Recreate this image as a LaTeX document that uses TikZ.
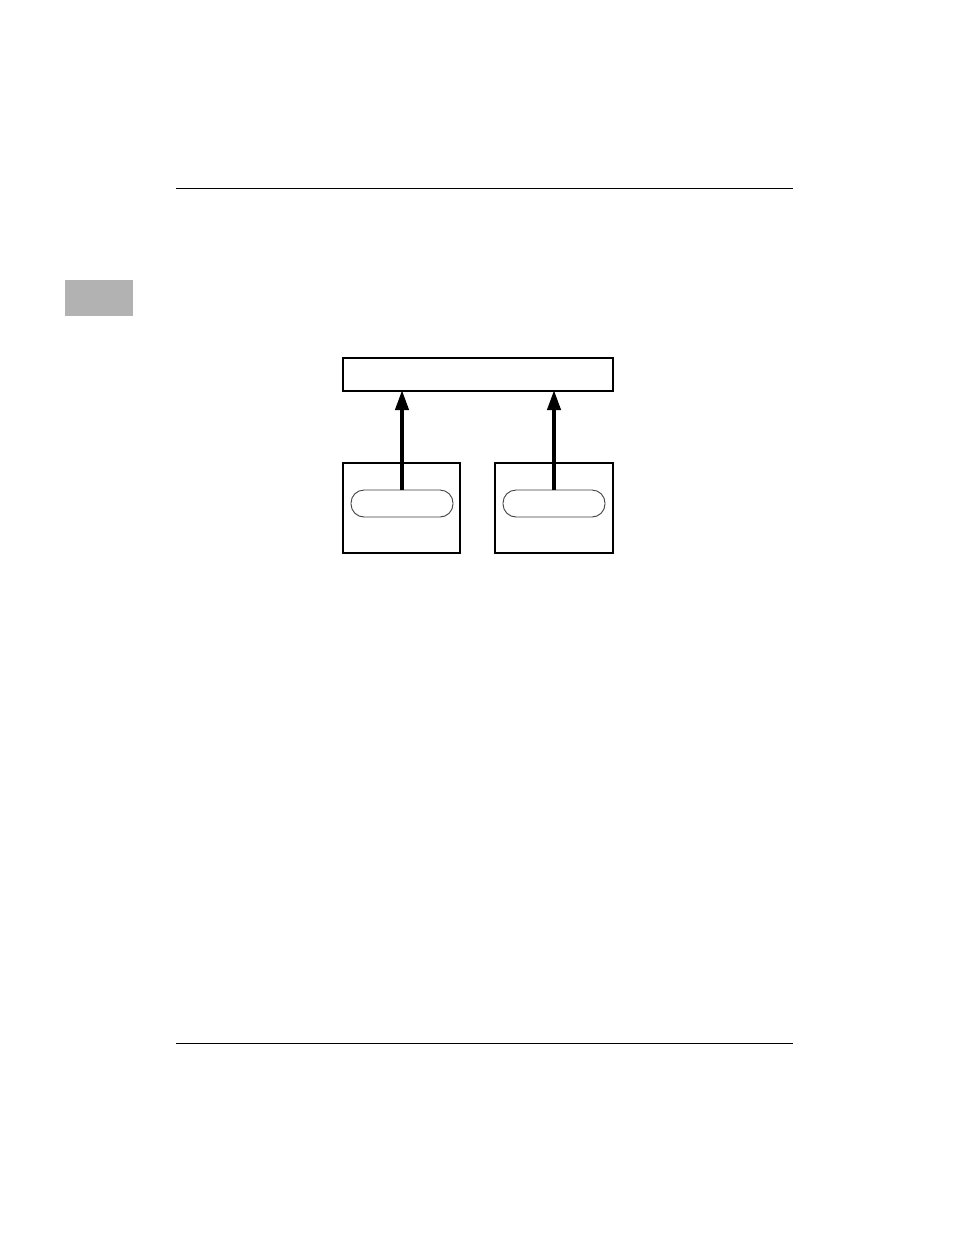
\documentclass[tikz,border=0pt]{standalone}
\usetikzlibrary{arrows.meta}
\begin{document}
\begin{tikzpicture}[x=1pt,y=-1pt,
  box/.style={draw=black,line width=1.8pt,fill=white,inner sep=0pt,outer sep=0pt},
  pill/.style={draw=black!75,line width=0.9pt,rounded corners=13pt,inner sep=0pt,outer sep=0pt,minimum width=102pt,minimum height=27pt},
  rule/.style={line width=1pt},
  upar/.style={line width=4pt,shorten >=-1pt,-{Triangle[length=20pt,width=13pt]}}]
\useasboundingbox (0,0) rectangle (954,1235);
\fill[white] (0,0) rectangle (954,1235);
% page rules and tab
\coordinate (tl) at (176,188); \coordinate (tr) at (793,188);
\coordinate (bl) at (176,1043); \coordinate (br) at (793,1043);
\draw[rule] (tl) -- (tr);
\draw[rule] (bl) -- (br);
\node[fill=black!30,minimum width=68pt,minimum height=36pt,inner sep=0pt] (tab) at (99,298) {};
% diagram
\node[box,minimum width=270pt,minimum height=33pt] (top) at (478,374.5) {};
\node[box,minimum width=117pt,minimum height=90pt] (lb) at (401.5,508) {};
\node[box,minimum width=118pt,minimum height=90pt] (rb) at (554,508) {};
\node[pill] (lp) at (402,503.5) {};
\node[pill] (rp) at (554,503.5) {};
\draw[upar] (lp.north) -- (lp.north |- top.south);
\draw[upar] (rp.north) -- (rp.north |- top.south);
\end{tikzpicture}
\end{document}
